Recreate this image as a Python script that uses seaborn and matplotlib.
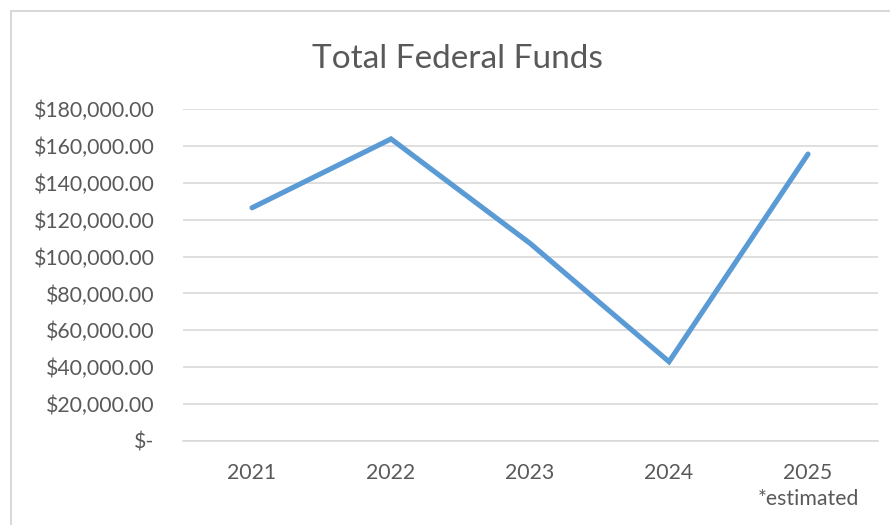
import numpy as np
import pandas as pd
import matplotlib
matplotlib.use("Agg")
import matplotlib.pyplot as plt
import seaborn as sns
from matplotlib.lines import Line2D
from matplotlib.ticker import FuncFormatter

# datos
anios = ["2021", "2022", "2023", "2024", "2025"]
fondos = [126500, 163900, 107200, 42900, 155700]
ticks_y = [0, 20000, 40000, 60000, 80000, 100000, 120000, 140000, 160000, 180000]
titulo = "Total Federal Funds"
nota = "*estimated"

sns.set_theme(style="white")
plt.rcParams["font.family"] = ["Lato", "DejaVu Sans"]

gris_texto = "#595959"
gris_linea = "#D9D9D9"
azul = "#5B9BD5"

df = pd.DataFrame({"anio": anios, "fondos": fondos})
df["pos"] = np.arange(len(anios))

fig = plt.figure(figsize=(8.9, 5.25), dpi=100)
ax = fig.add_axes([0.2051, 0.1606, 0.986 - 0.2051, 0.7918 - 0.1606])

sns.lineplot(data=df, x="pos", y="fondos", ax=ax, color=azul, linewidth=3.7,
             solid_capstyle="round", solid_joinstyle="miter")

ax.set_xlim(-0.5, len(anios) - 0.5)
ax.set_ylim(0, 180000)
ax.set_yticks(ticks_y)
ax.yaxis.set_major_formatter(FuncFormatter(
    lambda v, p: "$-" if v == 0 else f"${v:,.2f}"))
ax.set_xticks(df["pos"])
etiquetas = list(anios)
etiquetas[-1] = anios[-1] + "\n" + nota
ax.set_xticklabels(etiquetas)
for lab in ax.get_xticklabels():
    lab.set_linespacing(1.4)

ax.grid(axis="y", color=gris_linea, linewidth=1.2)
ax.grid(axis="x", visible=False)
ax.set_axisbelow(True)
for s in ["top", "right", "left"]:
    ax.spines[s].set_visible(False)
ax.spines["bottom"].set_color(gris_linea)
ax.spines["bottom"].set_linewidth(1.2)
ax.tick_params(axis="y", length=0, pad=20, labelsize=15.3, labelcolor=gris_texto)
ax.tick_params(axis="x", length=0, pad=16, labelsize=15.3, labelcolor=gris_texto)
ax.set_xlabel("")
ax.set_ylabel("")

fig.text(0.5135, 1 - 68 / 525, titulo, ha="center", va="baseline",
         fontsize=24, color=gris_texto)

# borde del area del grafico (estilo Excel)
fig.add_artist(Line2D([11 / 890, 11 / 890], [0, 1 - 11 / 525],
                      transform=fig.transFigure, color=gris_linea, linewidth=1.5))
fig.add_artist(Line2D([11 / 890, 1], [1 - 11 / 525, 1 - 11 / 525],
                      transform=fig.transFigure, color=gris_linea, linewidth=1.5))

fig.savefig("out.png", dpi=100, facecolor="white")
